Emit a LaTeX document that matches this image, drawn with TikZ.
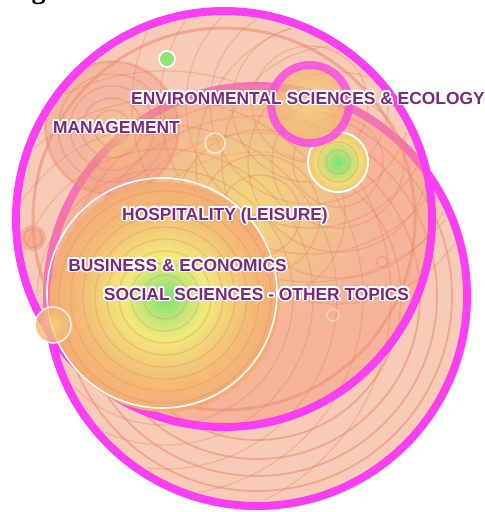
\documentclass[tikz,border=0pt]{standalone}
\usepackage{fontspec}
\setmainfont{Liberation Sans}
\newfontfamily\serifb{Liberation Serif}
\usepackage{contour}
\contourlength{1.6pt}
\contournumber{20}
\usetikzlibrary{fadings}
\definecolor{mag}{RGB}{250,62,244}
\definecolor{salm}{RGB}{242,160,128}
\definecolor{ringc}{RGB}{236,146,116}
\definecolor{meshc}{RGB}{232,134,96}
\definecolor{lab}{RGB}{122,42,124}
\definecolor{gr}{RGB}{120,226,120}
\definecolor{yl}{RGB}{240,234,122}
\definecolor{orn}{RGB}{244,186,118}
\definecolor{deep}{RGB}{238,150,118}
\pgfdeclareradialshading{socshade}{\pgfpoint{0bp}{0bp}}{color(0bp)=(gr); color(4bp)=(gr!50!yl); color(9bp)=(yl); color(19bp)=(orn); color(32bp)=(deep!85!orn); color(50bp)=(deep); color(100bp)=(deep)}
\pgfdeclareradialshading{smallshade}{\pgfpoint{0bp}{0bp}}{color(0bp)=(gr); color(8bp)=(gr!60!yl); color(18bp)=(yl!70!orn); color(32bp)=(orn!60!deep); color(50bp)=(deep); color(100bp)=(deep)}
\pgfdeclareradialshading{envshade}{\pgfpoint{0bp}{0bp}}{color(0bp)=(yl!70!orn); color(20bp)=(orn); color(50bp)=(deep); color(100bp)=(deep)}
\tikzfading[name=glowfade, inner color=transparent!0, outer color=transparent!100]
\tikzset{
  lbl/.style={font=\bfseries\fontsize{17.4}{18}\selectfont, text=lab, anchor=base, inner sep=0pt},
  bigring/.style={draw=mag, line width=8pt},
  meshline/.style={draw=meshc, line width=1.3pt, opacity=0.35},
  innerring/.style={draw=ringc, line width=1.8pt, opacity=0.6},
  whiteline/.style={draw=white, line width=1.6pt},
}
\begin{document}
\begin{tikzpicture}[x=1pt,y=-1pt]
\useasboundingbox (0,0) rectangle (485,512);
\coordinate (cA) at (224,219);
\coordinate (cB) at (257,296);
% caption remnant
\node[font=\serifb\bfseries\fontsize{28}{28}\selectfont, anchor=base, inner sep=0pt] (cap) at (38.5,-1.5) {g};
% circle B
\fill[salm, fill opacity=0.55] (cB) circle (210);
\foreach \r in {195,180,163,144} \path[innerring] (cB) circle (\r);
\path[bigring] (cB) circle (210);
% circle A
\fill[salm, fill opacity=0.55] (cA) circle (208);
\path[innerring, line width=3pt] (cA) circle (191);
% glow
\fill[yl!75!orn, path fading=glowfade, fill opacity=0.85] (250,205) circle (125);
% management node
\fill[deep, fill opacity=0.35] (112,128) circle (68);
\fill[yl!60!orn, path fading=glowfade, fill opacity=0.5] (120,135) circle (40);
\foreach \r in {18,30,42,54,66} \path[innerring, opacity=0.45] (112,128) circle (\r);
% mesh
\begin{scope}
\clip (cA) circle (202) (cB) circle (204);
\foreach \r in {58,78,100,124,150,178} \path[meshline] (310,104) circle (\r);
\foreach \r in {45,66,90,116,142} \path[meshline] (338,162) circle (\r);
\foreach \r in {128,148,172,198,226} \path[meshline] (165,297) circle (\r);
\foreach \r in {40,60,85} \path[meshline] (260,215) circle (\r);
\end{scope}
\path[bigring] (cA) circle (208);
% social sciences node
\shade[shading=socshade] (165,297) circle (115);
\foreach \r in {22,34,46,58,70,82,94,106} \path[meshline, opacity=0.3] (165,297) circle (\r);
\path[whiteline] (162,293) circle (115);
% green node
\shade[shading=smallshade] (338,162) circle (30);
\foreach \r in {12,20} \path[meshline, opacity=0.3] (338,162) circle (\r);
\path[whiteline, line width=2pt] (338,162) circle (30);
% environmental node
\shade[shading=envshade, fill opacity=0.7] (310,104) circle (38);
\path[draw=mag!85!salm, line width=8pt, opacity=0.85] (310,104) circle (39);
% small nodes
\fill[gr!80!yl] (167,59) circle (7.5);
\path[whiteline] (167,59) circle (8);
\fill[orn, fill opacity=0.3] (215,143) circle (10);
\path[whiteline, opacity=0.6] (215,143) circle (10);
\fill[deep, fill opacity=0.5] (33,238) circle (13);
\path[innerring] (33,238) circle (9);
\shade[shading=envshade, fill opacity=0.8] (53,325) circle (18);
\path[whiteline, opacity=0.8] (53,325) circle (18);
\path[innerring, opacity=0.5] (382,262) circle (5.5);
\path[whiteline, opacity=0.4, line width=1.2pt] (333,315) circle (6);
% labels
\node[lbl] (env) at (308,104) {\contour{white}{ENVIRONMENTAL SCIENCES \& ECOLOGY}};
\node[lbl] (mgmt) at (116.5,133) {\contour{white}{MANAGEMENT}};
\node[lbl] (hosp) at (225,220) {\contour{white}{HOSPITALITY (LEISURE)}};
\node[lbl] (bus) at (177.5,271) {\contour{white}{BUSINESS \& ECONOMICS}};
\node[lbl] (soc) at (256.5,300) {\contour{white}{SOCIAL SCIENCES - OTHER TOPICS}};
\end{tikzpicture}
\end{document}
